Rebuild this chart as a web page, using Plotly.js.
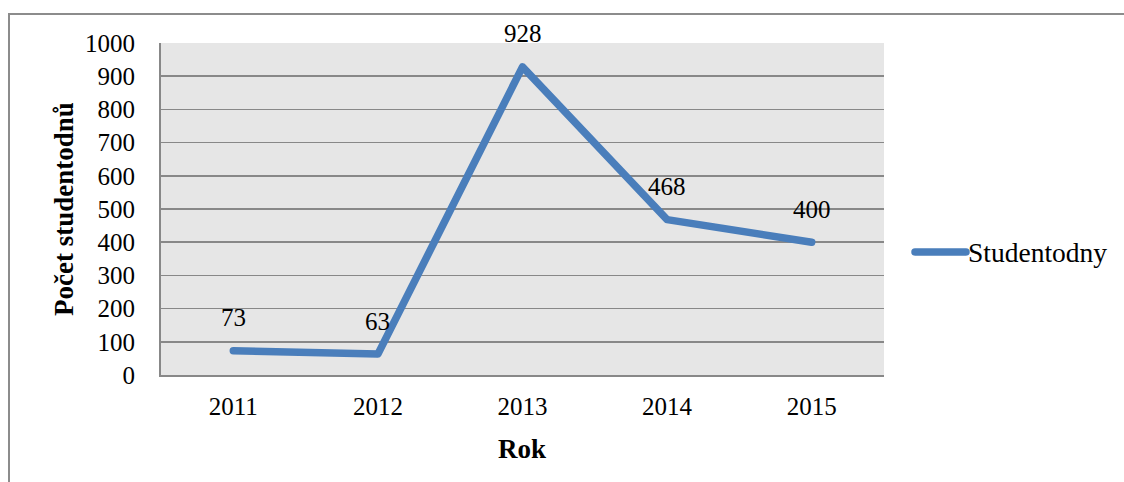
<!DOCTYPE html>
<html>
<head>
<meta charset="utf-8">
<script src="https://cdn.plot.ly/plotly-3.0.1.min.js"></script>
<style>
html,body{margin:0;padding:0;background:#fff;}
#frame{position:absolute;left:8px;top:13px;width:1200px;height:600px;border:2px solid #8c8c8c;box-sizing:border-box;pointer-events:none;z-index:2;}
#chart{position:absolute;left:0;top:0;width:1124px;height:482px;}
#chart .scatterlayer path.js-line, #chart .shapelayer path{stroke-linecap:round;stroke-linejoin:round;}
</style>
</head>
<body>
<div id="chart"></div>
<div id="frame"></div>
<script>
const years = ['2011','2012','2013','2014','2015'];
const studentodny = [73, 63, 928, 468, 400];
const seriesName = 'Studentodny';
const yTickVals = [0,100,200,300,400,500,600,700,800,900,1000];

const serif = 'Liberation Serif, Times New Roman, serif';
const lineColor = '#4a7ebb';

const trace = {
  x: years,
  y: studentodny,
  type: 'scatter',
  mode: 'lines',
  name: seriesName,
  line: {color: lineColor, width: 7.5},
  hoverinfo: 'skip',
  showlegend: false
};

const annotations = years.map((yr, i) => ({
  x: i, y: studentodny[i], xref: 'x', yref: 'y',
  text: String(studentodny[i]), showarrow: false, yshift: 33,
  font: {family: serif, size: 25, color: '#000'}
}));

annotations.push({
  text: '<b>Počet studentodnů</b>', xref: 'paper', yref: 'paper',
  x: (64-161)/723, y: (375-209)/332, xanchor: 'center', yanchor: 'middle',
  textangle: -90, showarrow: false, font: {family: serif, size: 27, color: '#000'}
});
annotations.push({
  text: '<b>Rok</b>', xref: 'paper', yref: 'paper',
  x: (522-161)/723, y: (375-449)/332, xanchor: 'center', yanchor: 'middle',
  showarrow: false, font: {family: serif, size: 27, color: '#000'}
});
// legend entry
const legY = (375-252)/332;
const legX0 = (915-161)/723, legX1 = (966-161)/723;
annotations.push({
  text: seriesName, xref: 'paper', yref: 'paper',
  x: (968-161)/723, y: legY, xanchor: 'left', yanchor: 'middle', xshift: -2,
  showarrow: false, font: {family: serif, size: 27.5, color: '#000'}
});

const layout = {
  width: 1124, height: 482,
  margin: {l: 161, r: 240, t: 43, b: 107},
  paper_bgcolor: '#fff',
  plot_bgcolor: '#e6e6e6',
  showlegend: false,
  xaxis: {
    type: 'category', range: [-0.5, 4.5],
    showgrid: false, zeroline: false,
    showline: true, linecolor: '#888', linewidth: 2,
    ticks: 'outside', ticklen: 8, tickcolor: 'rgba(0,0,0,0)',
    tickfont: {family: serif, size: 25, color: '#000'}
  },
  yaxis: {
    range: [0, 1000], tickvals: yTickVals,
    showgrid: true, gridcolor: '#888', gridwidth: 1.5,
    zeroline: false, showline: true, linecolor: '#888', linewidth: 2,
    ticks: 'outside', ticklen: 19, tickcolor: 'rgba(0,0,0,0)',
    tickfont: {family: serif, size: 25, color: '#000'}
  },
  shapes: [{
    type: 'line', xref: 'paper', yref: 'paper',
    x0: legX0, x1: legX1, y0: legY, y1: legY,
    line: {color: lineColor, width: 7.5}
  }],
  annotations: annotations
};

Plotly.newPlot('chart', [trace], layout, {displayModeBar: false, staticPlot: true});
</script>
</body>
</html>
